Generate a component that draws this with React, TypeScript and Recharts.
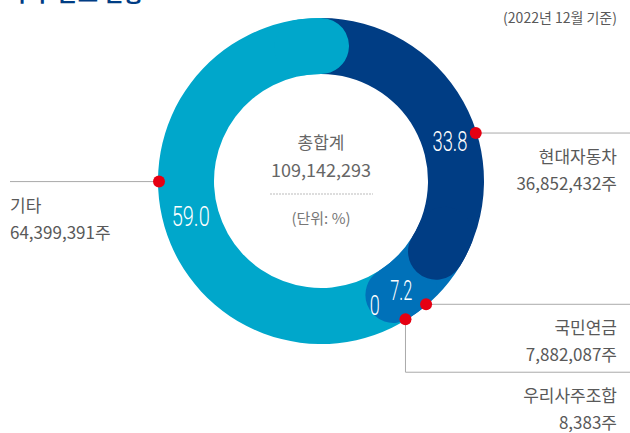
import { PieChart, Pie, Cell } from 'recharts';

// 주주 구성 (2022년 12월 기준)
const holders = ['현대자동차', '국민연금', '우리사주조합', '기타'];
const shares = [36852432, 7882087, 8383, 64399391];
const percents = ['33.8', '7.2', '0', '59.0'];
const shareLabels = ['36,852,432주', '7,882,087주', '8,383주', '64,399,391주'];
const totalLabel = '109,142,293';

const COLORS = ['#003D84', '#0071B9', '#0071B9', '#00A7CB'];
const RED = '#E50012';
const FONT = '"Noto Sans CJK KR", "Noto Sans", sans-serif';

const W = 630;
const H = 433;
const CX = 321;
const CY = 181;
const R_IN = 107;
const R_OUT = 163;
const CAP = 28; // half of the ring thickness
const CAP_DEG = (Math.asin(CAP / (R_OUT - CAP)) * 180) / Math.PI;

const data = holders.map((name, i) => ({ name, value: shares[i], pct: percents[i] }));
const total = shares.reduce((a, b) => a + b, 0);

// clockwise angle (from 12 o'clock) at which each holder ends
const endClock = shares.map((_, i) => (shares.slice(0, i + 1).reduce((a, b) => a + b, 0) / total) * 360);

// label tweaks (clockwise degrees added to each slice's mid angle)
const pctShift = [12, 9, 9, 1];
const dotShift = [12, 5, 1, 16];
const leader = ['right', 'right', 'down', 'left'];

const RAD = Math.PI / 180;
const polar = (cx: number, cy: number, r: number, deg: number) => ({
  x: cx + r * Math.cos(-deg * RAD),
  y: cy + r * Math.sin(-deg * RAD),
});

function Annotation(props: any) {
  const { cx, cy, midAngle, index } = props;
  const rMid = (R_IN + R_OUT) / 2;
  const p = polar(cx, cy, rMid, midAngle - pctShift[index]);
  const d = polar(cx, cy, R_OUT - 1, midAngle - dotShift[index]);
  const pctWidth = [35, 22, 10, 38][index];
  const side = leader[index];
  const textColor = '#595959';

  let line = '';
  let lineY = d.y;
  if (side === 'right') line = `M${d.x},${d.y}H${W}`;
  if (side === 'left') line = `M10,${d.y}H${d.x}`;
  if (side === 'down') {
    lineY = d.y + 53;
    line = `M${d.x},${d.y}V${lineY}H${W}`;
  }
  const tx = side === 'left' ? 10 : 617;
  const anchor = side === 'left' ? 'start' : 'end';

  return (
    <g>
      <text
        x={p.x}
        y={p.y}
        dy={10}
        textAnchor="middle"
        fill="#fff"
        fontFamily="Roboto, sans-serif"
        fontWeight={300}
        fontSize={28}
        textLength={pctWidth}
        lengthAdjust="spacingAndGlyphs"
      >
        {percents[index]}
      </text>
      <path d={line} stroke="#AAAAAA" strokeWidth={1} fill="none" />
      <circle cx={d.x} cy={d.y} r={6} fill={RED} />
      <text x={tx} y={lineY + 30} textAnchor={anchor} fill={textColor} fontFamily={FONT} fontSize={17}>
        {holders[index]}
      </text>
      <text x={tx} y={lineY + 57} textAnchor={anchor} fill={textColor} fontFamily={FONT} fontSize={17}>
        {shareLabels[index]}
      </text>
    </g>
  );
}

// rounded end cap sitting on the end boundary of a slice
function capPie(i: number) {
  const end = 90 - endClock[i];
  return (
    <Pie
      key={`cap-${i}`}
      data={[{ v: 1 }]}
      dataKey="v"
      cx={CX}
      cy={CY}
      innerRadius={R_IN}
      outerRadius={R_OUT}
      startAngle={end + 20}
      endAngle={end - CAP_DEG}
      cornerRadius={CAP}
      stroke="none"
      fill={COLORS[i]}
      isAnimationActive={false}
    />
  );
}

export default function App() {
  return (
    <div style={{ position: 'absolute', left: 0, top: 0, width: W, height: H, background: '#fff' }}>
      <PieChart width={W} height={H} margin={{ top: 0, right: 0, bottom: 0, left: 0 }}>
        <text x={12} y={1} fill="#003D84" fontFamily={FONT} fontWeight={700} fontSize={22}>
          주주 분포 현황
        </text>
        <text x={617} y={23} textAnchor="end" fill="#595959" fontFamily={FONT} fontSize={14}>
          (2022년 12월 기준)
        </text>

        <Pie
          data={data}
          dataKey="value"
          cx={CX}
          cy={CY}
          innerRadius={R_IN}
          outerRadius={R_OUT}
          startAngle={90}
          endAngle={-270}
          stroke="none"
          isAnimationActive={false}
        >
          {data.map((d, i) => (
            <Cell key={d.name} fill={COLORS[i]} />
          ))}
        </Pie>
        {capPie(1)}
        {capPie(0)}
        {capPie(3)}
        <Pie
          data={data}
          dataKey="value"
          cx={CX}
          cy={CY}
          innerRadius={R_IN}
          outerRadius={R_OUT}
          startAngle={90}
          endAngle={-270}
          stroke="none"
          fill="transparent"
          labelLine={false}
          label={Annotation}
          isAnimationActive={false}
        />

        <text x={CX} y={149} textAnchor="middle" fill="#666" fontFamily={FONT} fontSize={17}>
          총합계
        </text>
        <text x={CX} y={177} textAnchor="middle" fill="#666" fontFamily={FONT} fontSize={18}>
          {totalLabel}
        </text>
        <line x1={270} x2={373} y1={194} y2={194} stroke="#BBBBBB" strokeWidth={1} strokeDasharray="2 1" />
        <text x={CX} y={224} textAnchor="middle" fill="#777" fontFamily={FONT} fontSize={15}>
          (단위: %)
        </text>
      </PieChart>
    </div>
  );
}
